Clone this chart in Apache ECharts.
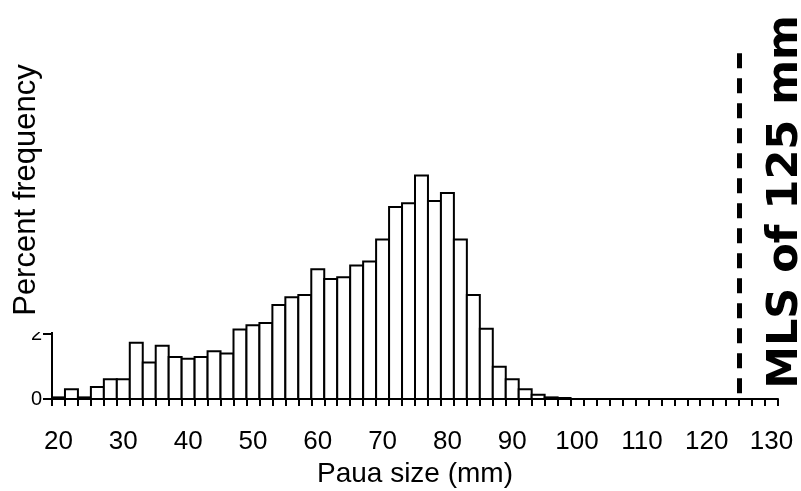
<!DOCTYPE html>
<html>
<head>
<meta charset="utf-8">
<script src="https://cdn.jsdelivr.net/npm/echarts@6/dist/echarts.min.js"></script>
<style>html,body{margin:0;padding:0;background:#fff;}#c{width:801px;height:491px;}</style>
</head>
<body>
<div id="c"></div>
<script>
// Bin centres (mm) — each bin is 2 mm wide
const binCenters = [20,22,24,26,28,30,32,34,36,38,40,42,44,46,48,50,52,54,56,58,60,62,64,66,68,70,72,74,76,78,80,82,84,86,88,90,92,94,96,98];
// Percent frequency per bin
const percentFreq = [0.05,0.3,0.05,0.37,0.61,0.61,1.73,1.12,1.64,1.29,1.24,1.29,1.47,1.4,2.14,2.27,2.34,2.89,3.13,3.2,3.99,3.69,3.75,4.11,4.23,4.91,5.91,6.02,6.88,6.09,6.34,4.91,3.2,2.16,0.99,0.61,0.3,0.13,0.05,0.03];
// Axis labels
const xTickLabels = [20,30,40,50,60,70,80,90,100,110,120,130];
const xTickMarks = [19,21,23,25,27,29,31,33,35,37,39,41,43,45,47,49,51,53,55,57,59,61,63,65,67,69,71,73,75,77,79,81,83,85,87,89,91,93,95,97,99,101,103,105,107,109,111,113,115,117,119,121,123,125,127,129,131];
const yTickLabels = [0,2];
const mls = 125;
const mlsText = 'MLS of 125 mm';
const xTitle = 'Paua size (mm)';
const yTitle = 'Percent frequency';

const chart = echarts.init(document.getElementById('c'), null, {renderer: 'canvas'});
const data = binCenters.map((c, i) => [c, percentFreq[i]]);

chart.setOption({
  animation: false,
  backgroundColor: '#fff',
  grid: {left: 52, right: 23, top: 41.5, bottom: 92, containLabel: false, outerBoundsMode: 'none'},
  xAxis: {
    type: 'value', min: 19, max: 131,
    splitLine: {show: false},
    axisLine: {show: true, onZero: false, lineStyle: {color: '#000', width: 2}},
    axisTick: {show: true, customValues: xTickMarks, length: 7, inside: false, lineStyle: {color: '#000', width: 2}},
    axisLabel: {customValues: xTickLabels, margin: 30, color: '#000', fontSize: 26, fontFamily: '"Liberation Sans Narrow", "Liberation Sans", sans-serif'},
    name: xTitle, nameLocation: 'middle', nameGap: 54,
    nameTextStyle: {color: '#000', fontSize: 28, fontFamily: '"Liberation Sans", Arial, sans-serif'}
  },
  yAxis: {
    type: 'value', min: 0, max: 11,
    splitLine: {show: false},
    axisLine: {show: true, lineStyle: {color: '#000', width: 2}},
    axisTick: {show: true, customValues: yTickLabels, length: 9, lineStyle: {color: '#000', width: 2}},
    axisLabel: {customValues: yTickLabels, margin: 10, color: '#000', fontSize: 20, fontFamily: '"Liberation Sans Narrow", "Liberation Sans", sans-serif'}
  },
  series: [{
    type: 'custom',
    data: data,
    clip: false,
    renderItem: function (params, api) {
      const c = api.value(0), v = api.value(1);
      const p0 = api.coord([c - 1, v]);
      const p1 = api.coord([c + 1, 0]);
      return {
        type: 'rect',
        shape: {x: p0[0], y: p0[1], width: p1[0] - p0[0], height: p1[1] - p0[1]},
        style: {fill: '#fff', stroke: '#000', lineWidth: 2}
      };
    },
    markLine: {
      silent: true, symbol: 'none',
      label: {show: false},
      lineStyle: {color: '#000', width: 5, type: [15, 10]},
      data: [[{coord: [mls, 0.18]}, {coord: [mls, 10.74]}]]
    }
  }],
  graphic: [
    {type: 'rect', z: 100, shape: {x: 0, y: 0, width: 65, height: 332}, style: {fill: '#fff'}},
    {type: 'text', z: 101, x: 26, y: 190, rotation: Math.PI / 2,
     style: {text: yTitle, fill: '#000', fontSize: 31, fontFamily: '"Liberation Sans", Arial, sans-serif', textAlign: 'center', textVerticalAlign: 'middle'}},
    {type: 'text', z: 101, x: 786, y: 202, rotation: Math.PI / 2,
     style: {text: mlsText, fill: '#000', fontSize: 43, fontWeight: 'bold', fontFamily: '"DejaVu Sans", sans-serif', textAlign: 'center', textVerticalAlign: 'middle'}}
  ]
});
</script>
</body>
</html>
